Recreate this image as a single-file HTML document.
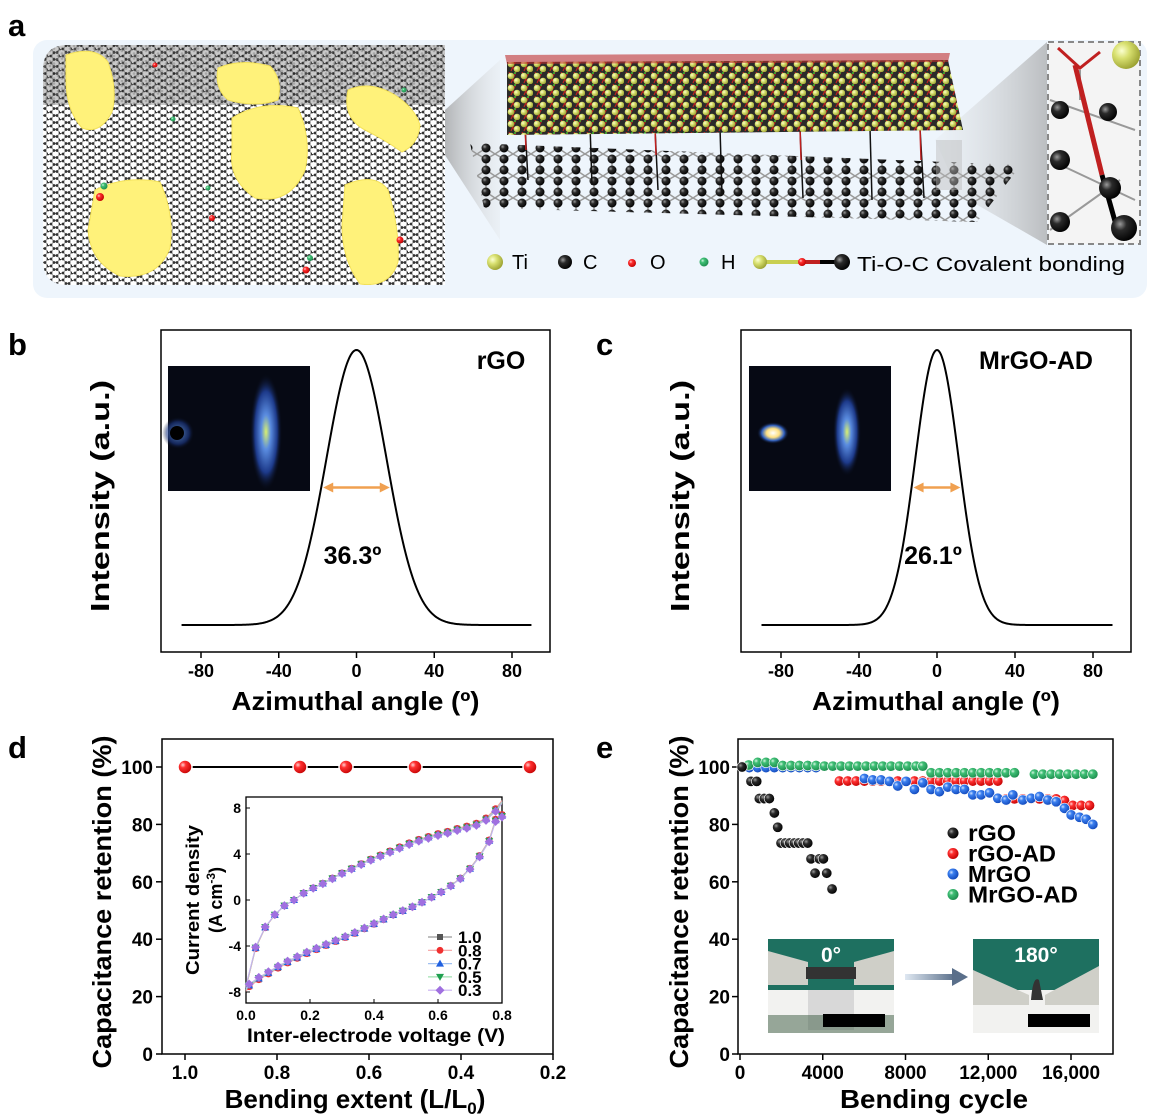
<!DOCTYPE html>
<html><head><meta charset="utf-8"><style>
html,body{margin:0;padding:0;background:#fff;width:1152px;height:1118px;overflow:hidden}
svg{display:block;font-family:"Liberation Sans",Arial,sans-serif}
.b{font-weight:bold}
</style></head><body>
<svg id="fig" width="1152" height="1118" viewBox="0 0 1152 1118">
<defs>
<radialGradient id="gBlack" cx="0.35" cy="0.35" r="0.7"><stop offset="0" stop-color="#9a9a9a"/><stop offset="0.35" stop-color="#2a2a2a"/><stop offset="1" stop-color="#000"/></radialGradient>
<radialGradient id="gRed" cx="0.35" cy="0.35" r="0.7"><stop offset="0" stop-color="#ffd0d0"/><stop offset="0.3" stop-color="#ff3030"/><stop offset="1" stop-color="#c00000"/></radialGradient>
<radialGradient id="gBlue" cx="0.35" cy="0.35" r="0.7"><stop offset="0" stop-color="#cfe2ff"/><stop offset="0.3" stop-color="#3a7ff0"/><stop offset="1" stop-color="#1046b8"/></radialGradient>
<radialGradient id="gGreen" cx="0.35" cy="0.35" r="0.7"><stop offset="0" stop-color="#d6f5e2"/><stop offset="0.3" stop-color="#3fbf75"/><stop offset="1" stop-color="#1c8a4c"/></radialGradient>
<radialGradient id="gTi" cx="0.35" cy="0.35" r="0.7"><stop offset="0" stop-color="#fbffd0"/><stop offset="0.4" stop-color="#d8e070"/><stop offset="1" stop-color="#9aa030"/></radialGradient>
<radialGradient id="glowB" cx="0.5" cy="0.5" r="0.5"><stop offset="0" stop-color="#d8f070"/><stop offset="0.3" stop-color="#5a8ce0"/><stop offset="0.7" stop-color="#1d3a8a"/><stop offset="1" stop-color="#0a0e1c" stop-opacity="0"/></radialGradient>
<radialGradient id="glowW" cx="0.5" cy="0.5" r="0.5"><stop offset="0" stop-color="#fff"/><stop offset="0.4" stop-color="#ffe080"/><stop offset="0.7" stop-color="#3060c0"/><stop offset="1" stop-color="#0a0e1c" stop-opacity="0"/></radialGradient>
<linearGradient id="funnel" x1="0" x2="1"><stop offset="0" stop-color="#999" stop-opacity="0.7"/><stop offset="1" stop-color="#ddd" stop-opacity="0.2"/></linearGradient>
<linearGradient id="funnel2" x1="1" x2="0"><stop offset="0" stop-color="#999" stop-opacity="0.6"/><stop offset="1" stop-color="#ddd" stop-opacity="0.15"/></linearGradient>
<linearGradient id="arrowG" x1="0" x2="1"><stop offset="0" stop-color="#dfe8f2"/><stop offset="1" stop-color="#5a6f8a"/></linearGradient>
<pattern id="mesh" width="12" height="7" patternUnits="userSpaceOnUse">
<rect width="12" height="7" fill="#fff"/>
<path d="M0 0 L3 0 L6 3.5 L9 3.5 L12 0 M6 3.5 L3 7 M9 3.5 L12 7" stroke="#9a9a9a" stroke-width="1" fill="none"/>
<circle cx="3" cy="0" r="1.4" fill="#333"/><circle cx="6" cy="3.5" r="1.4" fill="#333"/><circle cx="9" cy="3.5" r="1.4" fill="#333"/><circle cx="12" cy="0" r="1.4" fill="#333"/><circle cx="0" cy="0" r="1.4" fill="#333"/><circle cx="3" cy="7" r="1.4" fill="#333"/><circle cx="12" cy="7" r="1.4" fill="#333"/>
</pattern>
<pattern id="meshFine" width="8" height="5" patternUnits="userSpaceOnUse">
<rect width="8" height="5" fill="#777"/><circle cx="2" cy="1" r="1.3" fill="#222"/><circle cx="6" cy="3.5" r="1.3" fill="#222"/>
</pattern>
<pattern id="slab" width="13" height="12" patternUnits="userSpaceOnUse">
<rect width="13" height="12" fill="#2a2a2a"/>
<path d="M2 0 L8 11 M9 0 L4 11" stroke="#c02020" stroke-width="1.2"/>
<circle cx="4" cy="4" r="3.3" fill="url(#gTi)"/><circle cx="10" cy="9" r="3.3" fill="url(#gTi)"/>
<circle cx="8" cy="1" r="1" fill="#30c030"/>
</pattern>
<pattern id="graph" width="36" height="22" patternUnits="userSpaceOnUse">
<path d="M0 5 L9 0 L18 5 L27 0 L36 5 M18 5 L18 16 L9 22 M18 16 L27 22 M0 5 L0 16 L9 22 M36 5 L36 16 L27 22" stroke="#9a9a9a" stroke-width="1.5" fill="none"/>
<circle cx="0" cy="5" r="4.5" fill="url(#gBlack)"/><circle cx="18" cy="5" r="4.5" fill="url(#gBlack)"/><circle cx="36" cy="5" r="4.5" fill="url(#gBlack)"/>
<circle cx="18" cy="16" r="4.5" fill="url(#gBlack)"/><circle cx="0" cy="16" r="4.5" fill="url(#gBlack)"/><circle cx="36" cy="16" r="4.5" fill="url(#gBlack)"/>
</pattern>
<clipPath id="leftClip"><path d="M43 70 Q43 45 68 45 L445 45 L445 285 L68 285 Q43 285 43 260 Z"/></clipPath>
</defs>

<!-- ===== PANEL A ===== -->
<g>
<text x="8" y="36" class="b" font-size="31">a</text>
<rect x="33" y="40" width="1114" height="258" rx="14" fill="#eef5fc"/>
<g clip-path="url(#leftClip)">
<rect x="43" y="45" width="402" height="240" fill="url(#mesh)"/>
<rect x="43" y="45" width="402" height="60" fill="url(#meshFine)" opacity="0.4"/>
<g fill="#fff27a" stroke="#f3e15a" stroke-width="1">
<path d="M66 55 Q95 45 108 62 Q118 90 112 112 Q100 135 82 128 Q66 110 66 80 Z"/>
<path d="M218 68 Q240 58 270 66 Q283 80 278 100 Q255 108 228 100 Q214 88 218 68 Z"/>
<path d="M232 118 Q260 100 298 108 Q312 140 305 170 Q290 205 255 198 Q228 180 232 150 Z"/>
<path d="M348 90 Q370 80 395 95 Q415 108 420 125 Q418 145 402 152 Q385 140 365 130 Q342 118 348 90 Z"/>
<path d="M95 190 Q125 175 160 182 Q175 215 170 248 Q158 280 120 276 Q90 262 88 230 Z"/>
<path d="M345 185 Q375 172 388 190 Q400 230 398 262 Q390 288 360 284 Q342 260 342 225 Z"/>
</g>
<g>
<circle cx="104" cy="186" r="3.5" fill="url(#gGreen)"/><circle cx="100" cy="197" r="4" fill="url(#gRed)"/>
<circle cx="212" cy="218" r="3" fill="url(#gRed)"/><circle cx="208" cy="188" r="2.5" fill="url(#gGreen)"/>
<circle cx="310" cy="258" r="3" fill="url(#gGreen)"/><circle cx="306" cy="270" r="3.5" fill="url(#gRed)"/>
<circle cx="400" cy="240" r="3.5" fill="url(#gRed)"/><circle cx="173" cy="119" r="2.5" fill="url(#gGreen)"/>
<circle cx="155" cy="65" r="2.5" fill="url(#gRed)"/><circle cx="404" cy="90" r="2.5" fill="url(#gGreen)"/>
</g>
</g>
<polygon points="445,110 445,155 500,240 500,60" fill="url(#funnel)"/>
<polygon points="935,140 960,195 1047,245 1047,42" fill="url(#funnel2)"/>
<g>
<polygon points="470,143 1021,165 977,222 484,208" fill="url(#graph)"/>
<g stroke="#111" stroke-width="1.5">
<line x1="525" y1="125" x2="528" y2="180"/><line x1="590" y1="125" x2="592" y2="185"/><line x1="655" y1="128" x2="658" y2="190"/><line x1="720" y1="128" x2="722" y2="195"/><line x1="800" y1="128" x2="803" y2="198"/><line x1="870" y1="128" x2="872" y2="200"/><line x1="920" y1="128" x2="924" y2="198"/>
</g>
<g stroke="#c02020" stroke-width="1.5">
<line x1="525" y1="125" x2="526" y2="150"/><line x1="655" y1="128" x2="656" y2="155"/><line x1="800" y1="128" x2="801" y2="160"/><line x1="920" y1="128" x2="921" y2="160"/>
</g>
<polygon points="507,62 948,60 963,130 507,135" fill="url(#slab)"/>
<polygon points="505,55 950,53 948,62 507,64" fill="#c03030" opacity="0.6"/>
<rect x="936" y="140" width="26" height="50" fill="#bbb" opacity="0.45"/>
</g>
<g>
<rect x="1048" y="42" width="92" height="202" fill="#f4f4f4" stroke="#888" stroke-width="2" stroke-dasharray="6 4"/>
<g stroke="#999" stroke-width="2" fill="none"><path d="M1050 100 L1135 130 M1050 160 L1135 200 M1050 230 L1120 180 M1080 70 L1080 100"/></g>
<line x1="1075" y1="65" x2="1102" y2="175" stroke="#c02020" stroke-width="5"/>
<line x1="1102" y1="175" x2="1118" y2="232" stroke="#000" stroke-width="5"/>
<circle cx="1126" cy="55" r="14" fill="url(#gTi)"/>
<circle cx="1060" cy="110" r="9" fill="url(#gBlack)"/><circle cx="1108" cy="112" r="9" fill="url(#gBlack)"/>
<circle cx="1060" cy="160" r="10" fill="url(#gBlack)"/><circle cx="1110" cy="188" r="11" fill="url(#gBlack)"/>
<circle cx="1124" cy="228" r="13" fill="url(#gBlack)"/><circle cx="1060" cy="222" r="10" fill="url(#gBlack)"/>
<path d="M1058 48 L1080 68 L1100 52" stroke="#c02020" stroke-width="3" fill="none"/>
</g>
<g font-size="20">
<circle cx="495" cy="262" r="8" fill="url(#gTi)"/><text x="512" y="269">Ti</text>
<circle cx="565" cy="262" r="7" fill="url(#gBlack)"/><text x="583" y="269">C</text>
<circle cx="632" cy="263" r="4" fill="url(#gRed)"/><text x="650" y="269">O</text>
<circle cx="704" cy="262" r="4.5" fill="url(#gGreen)"/><text x="721" y="269">H</text>
<line x1="760" y1="262" x2="800" y2="262" stroke="#c8cf50" stroke-width="4"/><line x1="800" y1="262" x2="820" y2="262" stroke="#c02020" stroke-width="4"/><line x1="820" y1="262" x2="840" y2="262" stroke="#000" stroke-width="4"/>
<circle cx="760" cy="262" r="7" fill="url(#gTi)"/><circle cx="802" cy="262" r="4" fill="url(#gRed)"/><circle cx="842" cy="262" r="8" fill="url(#gBlack)"/>
<text x="857" y="271" textLength="268" lengthAdjust="spacingAndGlyphs">Ti-O-C Covalent bonding</text>
</g>
</g>

<text x="8" y="355" class="b" font-size="31">b</text>
<text x="596" y="355" class="b" font-size="31">c</text>
<text x="8" y="758" class="b" font-size="31">d</text>
<text x="596" y="758" class="b" font-size="31">e</text>

<g id="charts"></g>
</svg>
<script>
// ===== DATA =====
const profileLabels = ["rGO", "MrGO-AD"];
const profileCenters = [0, 0];
const profileFWHM = [36.3, 26.1];
const angleTicks = [-80, -40, 0, 40, 80];

const bendExtent = [1.0, 0.75, 0.65, 0.5, 0.25];
const bendRetention = [100, 100, 100, 100, 100];
const dXTicks = [1.0, 0.8, 0.6, 0.4, 0.2];
const retTicks = [0, 20, 40, 60, 80, 100];

const cvUpperV = [0.0,0.03,0.06,0.09,0.12,0.15,0.18,0.21,0.24,0.27,0.30,0.33,0.36,0.39,0.42,0.45,0.48,0.51,0.54,0.57,0.60,0.63,0.66,0.69,0.72,0.75,0.78,0.80];
const cvUpperJ = [-7.6,-4.2,-2.4,-1.3,-0.5,0.0,0.6,1.05,1.45,1.9,2.35,2.75,3.15,3.55,3.9,4.25,4.6,4.95,5.25,5.5,5.75,5.95,6.2,6.4,6.65,7.1,7.9,8.6];
const cvLowerV = [0.0,0.01,0.04,0.07,0.10,0.13,0.16,0.19,0.22,0.25,0.28,0.31,0.34,0.37,0.40,0.43,0.46,0.49,0.52,0.55,0.58,0.61,0.64,0.67,0.70,0.73,0.76,0.78,0.80];
const cvLowerJ = [-7.9,-7.5,-6.9,-6.4,-5.9,-5.45,-5.05,-4.65,-4.3,-3.95,-3.6,-3.25,-2.9,-2.5,-2.1,-1.7,-1.3,-0.95,-0.6,-0.2,0.25,0.7,1.25,1.9,2.75,3.85,5.2,7.0,7.4];
const cvSeries = ["1.0", "0.8", "0.7", "0.5", "0.3"];
const cvScale = [1.0, 1.005, 0.99, 0.985, 0.975];
const cvXTicks = [0.0, 0.2, 0.4, 0.6, 0.8];
const cvYTicks = [-8, -4, 0, 4, 8];

const rgoCycles = [100,532,806,935,1177,1419,1661,1822,1983,2193,2403,2628,2838,3048,3273,3434,3837,4031,3628,4192,4450];
const rgoRet = [100,95,95,89,89,89,84,79,73.5,73.5,73.5,73.5,73.5,73.5,73.5,68,68,68,63,63,57.5];
const rgoadCycles = [451,854,1257,1660,2063,2466,4804,5207,5610,6013,6416,6819,7222,7625,8028,8431,8834,9237,9640,10043,10446,10849,11252,11655,12058,12461,12864,13267,13670,14073,14476,14879,15282,15685,16088,16491,16894];
const rgoadRet = [100,100,100,100,100,100,95.1,95.1,95.1,95.1,95.1,95.1,95.1,95.1,95.1,95.1,95.1,95.1,95.1,95.1,95.1,95.1,95.1,95.1,95.1,95.1,88.9,88.9,88.9,88.9,88.9,88.9,88.9,88.3,86.6,86.6,86.6];
const mrgoCycles = [451,854,1257,1660,2063,2466,2869,3272,3675,6013,6416,6819,7222,7625,8028,8431,8834,9237,9640,10043,10446,10849,11252,11655,12058,12461,12864,13187,13670,14073,14476,14879,15282,15685,16008,16411,16733,17055];
const mrgoRet = [99.8,99.8,99.8,99.8,99.8,99.8,99.8,99.8,99.8,96.0,95.5,95.5,95.0,93.4,95.0,92.2,94.5,92.2,91.4,93.0,92.2,92.2,90.3,90.3,91.0,89.1,88.5,90.3,88.5,89.1,89.7,88.5,87.9,85.6,83.3,82.5,81.8,80.0];
const mrgoadCycles = [419,854,1257,1660,2063,2466,2869,3272,3675,4078,4481,4884,5287,5690,6093,6496,6899,7302,7705,8108,8511,8834,9237,9640,10043,10446,10849,11252,11655,12058,12461,12864,13267,14234,14637,15040,15443,15846,16249,16652,17055];
const mrgoadRet = [100.7,101.6,101.6,101.6,100.5,100.5,100.5,100.5,100.5,100.3,100.3,100.3,100.3,100.3,100.3,100.3,100.3,100.3,100.3,100.3,100.3,100.3,98,98,98,98,98,98,98,98,98,98,98,97.5,97.5,97.5,97.5,97.5,97.5,97.5,97.5];
const eXTicks = [0, 4000, 8000, 12000, 16000];
const eXTickLabels = ["0", "4000", "8000", "12,000", "16,000"];
const eLegend = ["rGO", "rGO-AD", "MrGO", "MrGO-AD"];

// ===== DRAWING =====
const NS = "http://www.w3.org/2000/svg";
const root = document.getElementById("charts");
function mk(tag, attrs, parent) {
  const el = document.createElementNS(NS, tag);
  for (const k in attrs) el.setAttribute(k, attrs[k]);
  (parent || root).appendChild(el);
  return el;
}
function txt(x, y, s, size, anchor, parent, extra) {
  const t = mk("text", Object.assign({x: x, y: y, "font-size": size, "font-weight": "bold", "text-anchor": anchor || "middle"}, extra || {}), parent);
  t.textContent = s;
  return t;
}
function fit(len) { return {textLength: len, lengthAdjust: "spacingAndGlyphs"}; }
function lin(d0, d1, r0, r1) { return v => r0 + (v - d0) / (d1 - d0) * (r1 - r0); }

// ---- Panels b & c ----
const bcBoxes = [{x0: 161, x1: 550}, {x0: 741, x1: 1131}];
const bcLabelX = [501, 1036];
const bcInsetX = [168, 749];
for (let p = 0; p < 2; p++) {
  const g = mk("g", {});
  
  
  const B = bcBoxes[p];
  const xs = lin(-80, 80, B.x0 + 40, B.x0 + 40 + (B.x1 - B.x0 - 78));
  const ys = lin(0, 1, 625, 350);
  const frame = mk("rect", {x: B.x0, y: 330, width: B.x1 - B.x0, height: 322, fill: "none", stroke: "#000", "stroke-width": 1.5}, g);
  
  
  angleTicks.forEach(t => {
    mk("line", {x1: xs(t), x2: xs(t), y1: 652, y2: 658, stroke: "#000", "stroke-width": 1.5}, g);
    const tl = txt(xs(t), 677, String(t), 18, "middle", g);
    
    
  });
  const ig = mk("g", {}, g);
  
  
  const ix = bcInsetX[p];
  mk("rect", {x: ix, y: 366, width: 142, height: 125, fill: "#060914"}, ig);
  if (p === 0) {
    mk("ellipse", {cx: ix + 98, cy: 432, rx: 16, ry: 58, fill: "url(#glowB)"}, ig);
    mk("circle", {cx: ix + 10, cy: 433, r: 16, fill: "url(#glowB)", opacity: 0.6}, ig);
    mk("circle", {cx: ix + 9, cy: 433, r: 7, fill: "#000"}, ig);
  } else {
    mk("ellipse", {cx: ix + 98, cy: 432, rx: 14, ry: 44, fill: "url(#glowB)"}, ig);
    mk("ellipse", {cx: ix + 24, cy: 433, rx: 16, ry: 11, fill: "url(#glowW)"}, ig);
  }
  const sigma = profileFWHM[p] / 2.3548;
  let d = "";
  for (let a = -90; a <= 90; a += 0.5) {
    const v = Math.exp(-0.5 * Math.pow((a - profileCenters[p]) / sigma, 2));
    d += (a === -90 ? "M" : "L") + xs(a).toFixed(2) + " " + ys(v).toFixed(2);
  }
  const curve = mk("path", {d: d, fill: "none", stroke: "#000", "stroke-width": 2}, g);
  
  
  const ag = mk("g", {}, g);
  
  
  const hx0 = xs(profileCenters[p] - profileFWHM[p] / 2) + 2, hx1 = xs(profileCenters[p] + profileFWHM[p] / 2) - 2, hy = ys(0.5);
  mk("line", {x1: hx0 + 6, x2: hx1 - 6, y1: hy, y2: hy, stroke: "#f0a050", "stroke-width": 2.5}, ag);
  mk("polygon", {points: `${hx0},${hy} ${hx0 + 10},${hy - 5} ${hx0 + 10},${hy + 5}`, fill: "#f0a050"}, ag);
  mk("polygon", {points: `${hx1},${hy} ${hx1 - 10},${hy - 5} ${hx1 - 10},${hy + 5}`, fill: "#f0a050"}, ag);
  const fl = txt(xs(profileCenters[p]) - 4, 564, profileFWHM[p].toFixed(1) + "º", 25, "middle", g);
  
  
  const sl = txt(bcLabelX[p], 369, profileLabels[p], 25, "middle", g);
  
  
  const xt = txt((B.x0 + B.x1) / 2, 710, "Azimuthal angle (º)", 26, "middle", g, fit(248));
  
  
  const yt = txt(0, 0, "Intensity (a.u.)", 26, "middle", g, Object.assign({transform: `translate(${B.x0 - 52},496) rotate(-90)`}, fit(232)));
  
  
}

// ---- Panel d ----
{
  const g = mk("g", {});
  
  
  const xs = lin(1.0, 0.2, 185, 553);
  const ys = lin(0, 100, 1054, 767);
  const fr = mk("rect", {x: 162, y: 739, width: 391, height: 315, fill: "none", stroke: "#000", "stroke-width": 1.5}, g);
  
  
  dXTicks.forEach(t => {
    mk("line", {x1: xs(t), x2: xs(t), y1: 1054, y2: 1060, stroke: "#000", "stroke-width": 1.5}, g);
    const tl = txt(xs(t), 1079, t.toFixed(1), 19, "middle", g);
    
    
  });
  retTicks.forEach(t => {
    mk("line", {x1: 156, x2: 162, y1: ys(t), y2: ys(t), stroke: "#000", "stroke-width": 1.5}, g);
    const tl = txt(153, ys(t) + 7, String(t), 19, "end", g);
    
    
  });
  let d = "";
  bendExtent.forEach((x, i) => { d += (i ? "L" : "M") + xs(x) + " " + ys(bendRetention[i]); });
  const ln = mk("path", {d: d, stroke: "#000", "stroke-width": 2, fill: "none"}, g);
  
  
  bendExtent.forEach((x, i) => {
    const c = mk("circle", {cx: xs(x), cy: ys(bendRetention[i]), r: 7, fill: "url(#gRed)", stroke: "#fff", "stroke-width": 1.5}, g);
    
    
  });
  const xt = txt(355, 1108, "Bending extent (L/L", 26, "middle", g);
  
  
  const sub = mk("tspan", {"font-size": 17, dy: 6}, xt); sub.textContent = "0";
  const cl = mk("tspan", {dy: -6}, xt); cl.textContent = ")";
  const yt = txt(0, 0, "Capacitance retention (%)", 26, "middle", g, Object.assign({transform: "translate(111,902) rotate(-90)"}, fit(333)));
  
  

  const ig = mk("g", {}, g);
  
  
  const ixs = lin(0, 0.8, 246, 502);
  const iys = lin(0, 8, 900, 808);
  mk("rect", {x: 246, y: 797, width: 256, height: 206, fill: "#fff", stroke: "#000", "stroke-width": 1.3}, ig);
  cvXTicks.forEach(t => {
    mk("line", {x1: ixs(t), x2: ixs(t), y1: 1003, y2: 999, stroke: "#000"}, ig);
    const tl = txt(ixs(t), 1020, t.toFixed(1), 14, "middle", ig);
    
    
  });
  cvYTicks.forEach(t => {
    mk("line", {x1: 246, x2: 250, y1: iys(t), y2: iys(t), stroke: "#000"}, ig);
    const tl = txt(241, iys(t) + 5, String(t), 14, "end", ig);
    
    
  });
  const colors = ["#555", "#f03030", "#2060e0", "#20a050", "#a070e0"];
  const lcolors = ["#999", "#f5a0a0", "#a0c0f0", "#a0e0b0", "#c8b0f0"];
  function marker(type, x, y, col, parent) {
    let m;
    if (type === 0) m = mk("rect", {x: x - 3, y: y - 3, width: 6, height: 6, fill: col}, parent);
    else if (type === 1) m = mk("circle", {cx: x, cy: y, r: 3.4, fill: col}, parent);
    else if (type === 2) m = mk("polygon", {points: `${x},${y - 4} ${x + 4},${y + 3} ${x - 4},${y + 3}`, fill: col}, parent);
    else if (type === 3) m = mk("polygon", {points: `${x},${y + 4} ${x + 4},${y - 3} ${x - 4},${y - 3}`, fill: col}, parent);
    else m = mk("polygon", {points: `${x},${y - 4.5} ${x + 4.5},${y} ${x},${y + 4.5} ${x - 4.5},${y}`, fill: col}, parent);
    return m;
  }
  cvSeries.forEach((name, s) => {
    const sg = mk("g", {}, ig);
    
    
    let du = "", dl = "";
    cvUpperV.forEach((v, i) => { du += (i ? "L" : "M") + ixs(v) + " " + iys(cvUpperJ[i] * cvScale[s]); });
    cvLowerV.forEach((v, i) => { dl += (i ? "L" : "M") + ixs(v) + " " + iys(cvLowerJ[i] * cvScale[s]); });
    mk("path", {d: du, fill: "none", stroke: lcolors[s], "stroke-width": 1}, sg);
    mk("path", {d: dl, fill: "none", stroke: lcolors[s], "stroke-width": 1}, sg);
    cvUpperV.forEach((v, i) => { if (i > 0 && i < cvUpperV.length - 1) marker(s, ixs(v), iys(cvUpperJ[i] * cvScale[s]), colors[s], sg); });
    cvLowerV.forEach((v, i) => { if (i > 0) marker(s, ixs(v), iys(cvLowerJ[i] * cvScale[s]), colors[s], sg); });
    const le = mk("g", {}, ig);
    
    
    const ly = 937 + s * 13.3;
    mk("line", {x1: 428, x2: 452, y1: ly, y2: ly, stroke: lcolors[s], "stroke-width": 1.2}, le);
    marker(s, 440, ly, colors[s], le);
    txt(458, ly + 6, name, 17, "start", le);
  });
  const it1 = txt(0, 0, "Current density", 18, "middle", ig, Object.assign({transform: "translate(199,900) rotate(-90)"}, fit(150)));
  
  
  const it2 = txt(0, 0, "(A cm", 18, "middle", ig, {transform: "translate(222,900) rotate(-90)"});
  const sup = mk("tspan", {"font-size": 12, dy: -7}, it2); sup.textContent = "-3";
  const cp = mk("tspan", {dy: 7}, it2); cp.textContent = ")";
  
  
  const it3 = txt(376, 1042, "Inter-electrode voltage (V)", 19, "middle", ig, fit(258));
  
  
}

// ---- Panel e ----
{
  const g = mk("g", {});
  
  
  const xs = lin(0, 16000, 740, 1071);
  const ys = lin(0, 100, 1054, 767);
  const fr = mk("rect", {x: 738, y: 739, width: 375, height: 315, fill: "none", stroke: "#000", "stroke-width": 1.5}, g);
  
  
  eXTicks.forEach((t, i) => {
    mk("line", {x1: xs(t), x2: xs(t), y1: 1054, y2: 1060, stroke: "#000", "stroke-width": 1.5}, g);
    const tl = txt(xs(t), 1079, eXTickLabels[i], 19, "middle", g);
    
    
  });
  retTicks.forEach(t => {
    mk("line", {x1: 732, x2: 738, y1: ys(t), y2: ys(t), stroke: "#000", "stroke-width": 1.5}, g);
    const tl = txt(730, ys(t) + 7, String(t), 19, "end", g);
    
    
  });
  const xt = txt(934, 1108, "Bending cycle", 26, "middle", g, fit(188));
  
  
  const yt = txt(0, 0, "Capacitance retention (%)", 26, "middle", g, Object.assign({transform: "translate(688,902) rotate(-90)"}, fit(333)));
  
  

  function photo(x, bent, label) {
    const pg = mk("g", {}, g);
    
    
    mk("rect", {x: x, y: 939, width: 126, height: 94, fill: "#1e7060"}, pg);
    mk("rect", {x: x, y: 990, width: 126, height: 43, fill: "#f2f2f0"}, pg);
    if (!bent) {
      mk("polygon", {points: `${x},${951} ${x + 40},${962} ${x + 40},${985} ${x},${985}`, fill: "#cfcfc8"}, pg);
      mk("polygon", {points: `${x + 126},${951} ${x + 86},${962} ${x + 86},${985} ${x + 126},${985}`, fill: "#cfcfc8"}, pg);
      mk("rect", {x: x + 38, y: 967, width: 50, height: 12, fill: "#333"}, pg);
      mk("rect", {x: x + 40, y: 990, width: 46, height: 40, fill: "#d8d8d8"}, pg);
      mk("rect", {x: x, y: 1015, width: 126, height: 18, fill: "#3a5a40", opacity: 0.5}, pg);
    } else {
      mk("polygon", {points: `${x},${970} ${x + 56},${995} ${x + 56},${1005} ${x},${1005}`, fill: "#cfcfc8"}, pg);
      mk("polygon", {points: `${x + 126},${966} ${x + 72},${995} ${x + 72},${1005} ${x + 126},${1005}`, fill: "#cfcfc8"}, pg);
      mk("path", {d: `M${x + 58} ${1000} Q${x + 60} ${975} ${x + 66} ${980} L${x + 70} ${1000} Z`, fill: "#333"}, pg);
    }
    mk("rect", {x: x + 55, y: 1014, width: 62, height: 13, fill: "#000"}, pg);
    const t = txt(x + 63, 962, label, 21, "middle", pg, {fill: "#fff"});
    
    
  }
  photo(768, false, "0°");
  photo(973, true, "180°");
  const ar = mk("g", {}, g);
  
  
  mk("rect", {x: 905, y: 974, width: 50, height: 6, fill: "url(#arrowG)"}, ar);
  mk("polygon", {points: "952,968 968,977 952,986", fill: "#5a6f8a"}, ar);

  const seriesX = [rgoadCycles, mrgoCycles, mrgoadCycles, rgoCycles];
  const seriesY = [rgoadRet, mrgoRet, mrgoadRet, rgoRet];
  const fills = ["url(#gRed)", "url(#gBlue)", "url(#gGreen)", "url(#gBlack)"];
  const names = ["series-rgo-ad", "series-mrgo", "series-mrgo-ad", "series-rgo"];
  seriesX.forEach((arr, s) => {
    const sg = mk("g", {}, g);
    
    
    arr.forEach((c, i) => {
      const pt = mk("circle", {cx: xs(c), cy: ys(seriesY[s][i]), r: 5.2, fill: fills[s], stroke: "#fff", "stroke-width": 0.6}, sg);
      
      
    });
  });
  const legFills = ["url(#gBlack)", "url(#gRed)", "url(#gBlue)", "url(#gGreen)"];
  const legW = [48, 88, 63, 110];
  eLegend.forEach((name, i) => {
    const le = mk("g", {}, g);
    
    
    const ly = 833 + i * 20.5;
    mk("circle", {cx: 953, cy: ly, r: 5.5, fill: legFills[i]}, le);
    txt(968, ly + 8, name, 23, "start", le, fit(legW[i]));
  });
}
</script>
</body></html>
